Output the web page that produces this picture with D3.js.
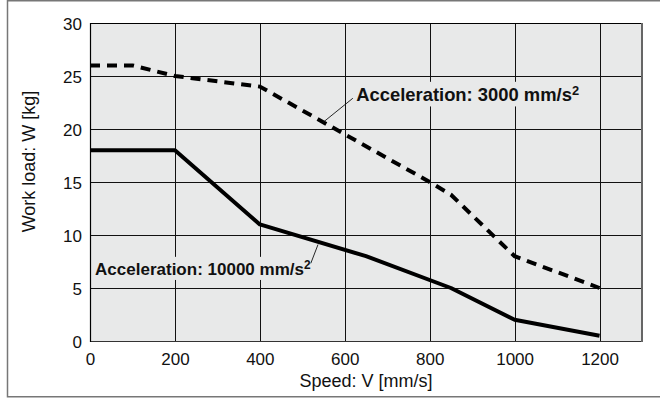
<!DOCTYPE html>
<html>
<head>
<meta charset="utf-8">
<script src="https://cdn.jsdelivr.net/npm/d3@7"></script>
<style>
  html, body { margin: 0; padding: 0; background: #fff; }
  svg { display: block; font-family: "Liberation Sans", Arial, Helvetica, sans-serif; }
</style>
</head>
<body>
<svg id="chart" width="660" height="398"></svg>
<script>
// ---- data ----
const xTicks = [0, 200, 400, 600, 800, 1000, 1200];
const yTicks = [0, 5, 10, 15, 20, 25, 30];
const speed3000 = [0, 100, 200, 400, 800, 850, 1000, 1200];
const load3000  = [26, 26, 25, 24, 15, 13.8, 8, 5];
const speed10000 = [0, 200, 400, 650, 850, 1000, 1200];
const load10000  = [18, 18, 11, 8, 5, 2, 0.5];
const labelText = ["Acceleration: 3000 mm/s", "Acceleration: 10000 mm/s"];
// annotation anchors in data units: [label x, label baseline y, leader start x, y, leader end x, y]
const labelPos3000  = [627, 22.6, 619, 22.9, 548, 20.6];
const labelPos10000 = [12, 6.23, 520, 7.33, 537, 9.1];
const xTitle = "Speed: V [mm/s]";
const yTitle = "Work load: W [kg]";

// ---- layout ----
const svg = d3.select("#chart");
const x = d3.scaleLinear().domain([0, 1300]).range([90, 642]);
const y = d3.scaleLinear().domain([0, 30]).range([341, 23]);

// outer frame
svg.append("rect").attr("x", 7.5).attr("y", 0.75).attr("width", 670).attr("height", 396)
  .attr("fill", "#fff").attr("stroke", "#777").attr("stroke-width", 1.5);

// plot background
svg.append("rect").attr("x", x(0)).attr("y", y(30)).attr("width", x(1300) - x(0)).attr("height", y(0) - y(30))
  .attr("fill", "#e8e9e9");

// grid
const grid = svg.append("g").attr("stroke", "#111").attr("stroke-width", 1);
xTicks.filter(d => d > 0).forEach(d => {
  grid.append("line").attr("x1", Math.round(x(d)) + 0.5).attr("x2", Math.round(x(d)) + 0.5)
    .attr("y1", y(30)).attr("y2", y(0));
});
yTicks.filter(d => d > 0 && d < 30).forEach(d => {
  grid.append("line").attr("x1", x(0)).attr("x2", x(1300))
    .attr("y1", Math.round(y(d)) + 0.5).attr("y2", Math.round(y(d)) + 0.5);
});

// plot border
svg.append("line").attr("x1", x(0)).attr("x2", x(1300)).attr("y1", y(30) + 0.5).attr("y2", y(30) + 0.5).attr("stroke", "#000").attr("stroke-width", 1.2);
svg.append("line").attr("x1", x(0)).attr("x2", x(1300)).attr("y1", y(0) + 0.5).attr("y2", y(0) + 0.5).attr("stroke", "#333").attr("stroke-width", 1.2);
svg.append("line").attr("x1", x(0) + 0.5).attr("x2", x(0) + 0.5).attr("y1", y(30)).attr("y2", y(0) + 1).attr("stroke", "#000").attr("stroke-width", 1.2);
svg.append("line").attr("x1", x(1300)).attr("x2", x(1300)).attr("y1", y(30)).attr("y2", y(0) + 1).attr("stroke", "#666").attr("stroke-width", 2);

// axes (labels only, no tick marks)
const xAxis = d3.axisBottom(x).tickValues(xTicks).tickSize(0).tickPadding(0).tickFormat(d3.format("d"));
const gx = svg.append("g").attr("transform", `translate(0,${y(0)})`).call(xAxis);
gx.select(".domain").remove();
gx.selectAll("text").attr("font-size", 17).attr("fill", "#111").attr("dy", null).attr("y", 24)
  .attr("font-family", "Liberation Sans, Arial, sans-serif");

const yAxis = d3.axisLeft(y).tickValues(yTicks).tickSize(0).tickPadding(8).tickFormat(d3.format("d"));
const gy = svg.append("g").attr("transform", `translate(${x(0)},0)`).call(yAxis);
gy.select(".domain").remove();
gy.selectAll("text").attr("font-size", 17).attr("fill", "#111").attr("dy", "0.36em")
  .attr("font-family", "Liberation Sans, Arial, sans-serif");

// axis titles
svg.append("text").attr("x", (x(0) + x(1300)) / 2).attr("y", 387).attr("text-anchor", "middle")
  .attr("font-size", 18).attr("fill", "#111").text(xTitle);
svg.append("text").attr("transform", "translate(35,161.5) rotate(-90)").attr("text-anchor", "middle")
  .attr("font-size", 18).attr("fill", "#111").text(yTitle);

// lines
const line = d3.line().x(d => x(d[0])).y(d => y(d[1]));
svg.append("path").datum(d3.zip(speed10000, load10000)).attr("d", line)
  .attr("fill", "none").attr("stroke", "#000").attr("stroke-width", 4).attr("stroke-linejoin", "round");
svg.append("path").datum(d3.zip(speed3000, load3000)).attr("d", line)
  .attr("fill", "none").attr("stroke", "#000").attr("stroke-width", 4).attr("stroke-dasharray", "10,7");

// annotations
function annotate(pos, txt, size) {
  const g = svg.append("g");
  const bg = g.append("rect").attr("fill", "#e8e9e9");
  const t = g.append("text").attr("x", x(pos[0])).attr("y", y(pos[1]))
    .attr("font-size", size).attr("font-weight", "bold").attr("fill", "#111");
  t.append("tspan").text(txt);
  t.append("tspan").attr("font-size", size * 0.7).attr("dy", -size * 0.36).text("2");
  const bb = t.node().getBBox();
  bg.attr("x", bb.x - 2).attr("y", bb.y - 1).attr("width", bb.width + 4).attr("height", bb.height + 2);
  svg.append("line").attr("x1", x(pos[2])).attr("y1", y(pos[3])).attr("x2", x(pos[4])).attr("y2", y(pos[5]))
    .attr("stroke", "#111").attr("stroke-width", 0.9);
}
annotate(labelPos3000, labelText[0], 18.4);
annotate(labelPos10000, labelText[1], 17);
</script>
</body>
</html>
